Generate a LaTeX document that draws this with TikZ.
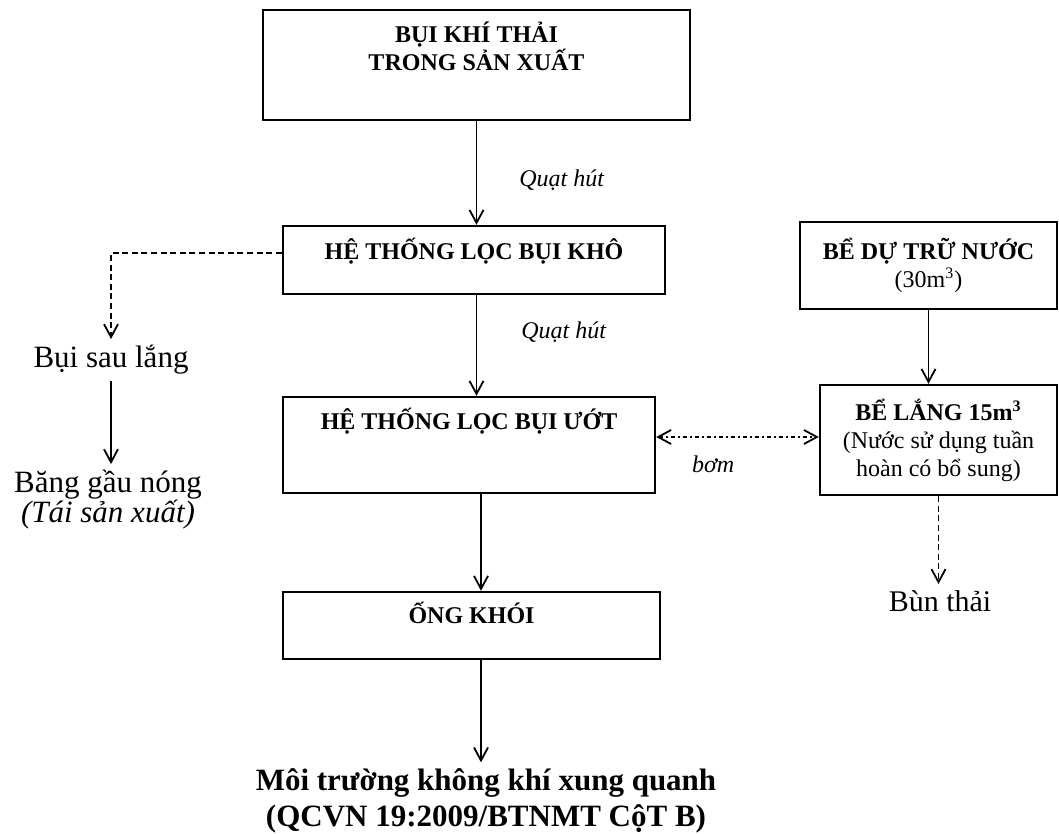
\documentclass[tikz,border=0pt]{standalone}
\usepackage{fontspec}
\setmainfont{Liberation Serif}
\usetikzlibrary{arrows.meta}

\begin{document}
\begin{tikzpicture}[x=0.5pt, y=-0.5pt, >={Straight Barb[length=6.5pt,width=7pt]},
    box/.style={draw, line width=1.2pt, inner sep=0pt, align=center, font=\fontsize{12}{14}\selectfont\bfseries},
    txt/.style={inner sep=3pt, align=center, font=\fontsize{15.5}{15}\selectfont},
    lbl/.style={inner sep=0pt, font=\fontsize{12}{14}\selectfont\itshape},
    flow/.style={->, line width=0.9pt},
    dashflow/.style={flow, dash pattern=on 3pt off 1.8pt}]
\useasboundingbox (0,0) rectangle (1059,834);

% main line
\node[box, minimum width=213.5pt, minimum height=55pt, text depth=19pt] (src) at (476.5,65) {BỤI KHÍ THẢI\\TRONG SẢN XUẤT};
\node[box, minimum width=191pt, minimum height=34pt, text depth=11pt] (dry) at (474,260) {HỆ THỐNG LỌC BỤI KHÔ};
\node[box, minimum width=186pt, minimum height=48pt, text depth=26pt] (wet) at (469,445) {HỆ THỐNG LỌC BỤI ƯỚT};
\node[box, minimum width=188.5pt, minimum height=33.5pt, text depth=12.5pt] (stack) at (471.5,625.5) {ỐNG KHÓI};
\node[txt, font=\fontsize{15.5}{18}\selectfont\bfseries] (air) at (486,801) {Môi trường không khí xung quanh\\(QCVN 19:2009/BTNMT CộT B)};
\coordinate (axis) at (481,0);

% water side
\node[box, minimum width=128.5pt, minimum height=43.5pt] (tank) at (928.5,265.5) {BỂ DỰ TRỮ NƯỚC\\{\mdseries(30m\textsuperscript{3})}};
\node[box, minimum width=118.5pt, minimum height=55pt] (settle) at (938.5,440) {BỂ LẮNG 15m\textsuperscript{3}\\{\mdseries(Nước sử dụng tuần}\\{\mdseries hoàn có bổ sung)}};
\node[txt, font=\fontsize{15}{15}\selectfont] (sludge) at (940,601) {Bùn thải};

% dust side
\node[txt] (dust) at (111,360) {Bụi sau lắng};
\node[txt] (reuse) at (108,500) {Băng gầu nóng\\\textit{(Tái sản xuất)}};

\draw[flow] (src.south) -- (src.south |- dry.north) node[lbl, midway, right=21pt, yshift=-3.5pt] {Quạt hút};
\draw[flow] (dry.south -| src.south) -- (src.south |- wet.north) node[lbl, midway, right=22pt, yshift=6.5pt] {Quạt hút};
\draw[flow] (wet.south -| axis) -- (stack.north -| axis);
\draw[flow] (stack.south -| axis) -- (air.north -| axis);

\draw[dashflow] ([yshift=3.5pt]dry.west) -| (dust.north);
\draw[flow] (dust.south) -- (dust.south |- reuse.north);

\draw[flow] (tank.south) -- (tank.south |- settle.north);
\draw[<->, line width=0.9pt, dash pattern=on 2pt off 1.5pt on 1pt off 1.5pt] ([yshift=4pt]wet.east) -- ([yshift=4pt]wet.east -| settle.west) node[lbl, pos=0.35, below=9pt] {bơm};
\draw[dashflow] (settle.south) -- (settle.south |- sludge.north);
\end{tikzpicture}
\end{document}
